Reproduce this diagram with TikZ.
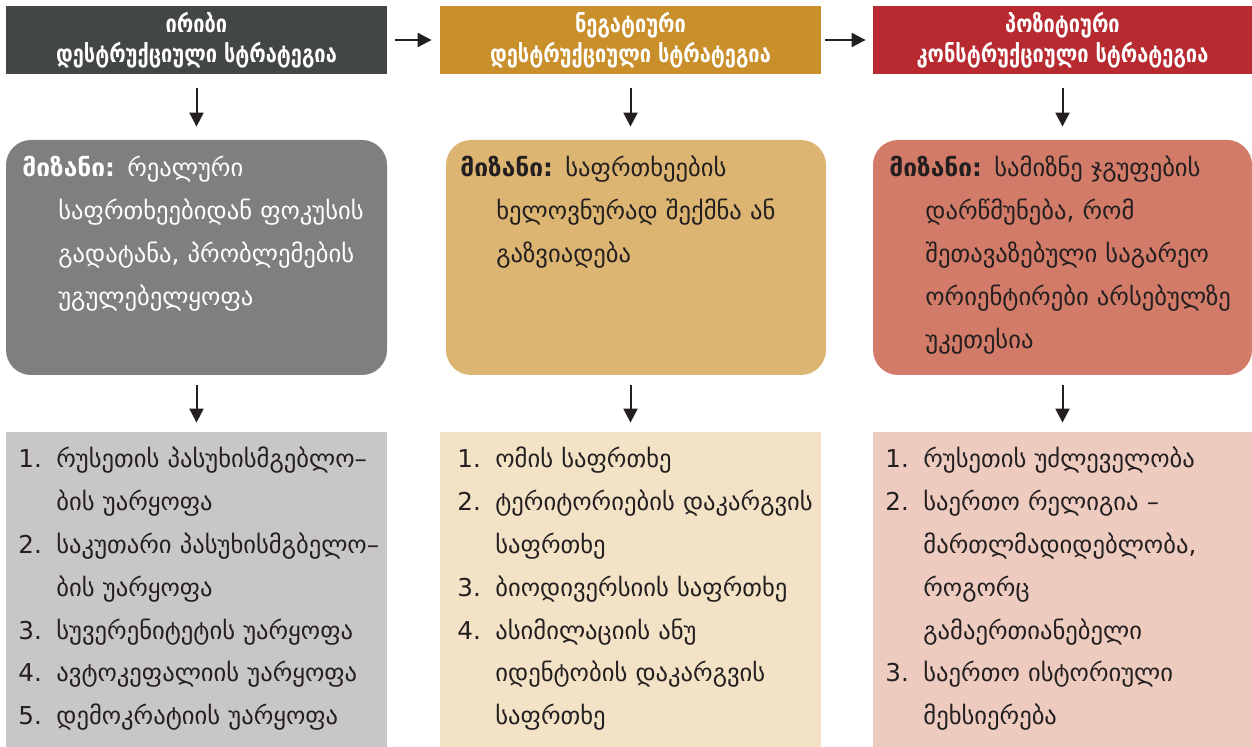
\documentclass[tikz,border=0pt]{standalone}
\usepackage{fontspec}
\setmainfont{DejaVu Sans}
\newfontfamily\hdrfont{DejaVu Sans}[FakeStretch=0.82]
\usetikzlibrary{arrows.meta}
\definecolor{hA}{HTML}{434646}
\definecolor{hB}{HTML}{C98F2A}
\definecolor{hC}{HTML}{B72A30}
\definecolor{gA}{HTML}{7F7F7F}
\definecolor{gB}{HTML}{DDB572}
\definecolor{gC}{HTML}{D27B68}
\definecolor{lA}{HTML}{C8C6C7}
\definecolor{lB}{HTML}{F3E2C6}
\definecolor{lC}{HTML}{EECBBF}
\definecolor{ink}{HTML}{231F20}
% goal text: hanging lines
\newcommand\gind{\newline\hspace*{18pt}}
% list: number box, continuation indent
\newcommand\lnum[1]{\makebox[19pt][l]{#1}}
\newcommand\lind{\newline\hspace*{19pt}}
\tikzset{
  hdr/.style={minimum width=190.5pt, minimum height=34pt, inner sep=0pt, text=white,
    font=\hdrfont\bfseries\fontsize{12.2}{15}\selectfont, align=center},
  goal/.style={rounded corners=12.5pt, minimum width=190pt, minimum height=117.5pt, inner sep=0pt},
  lst/.style={minimum width=190.5pt, minimum height=157.5pt, inner sep=0pt},
  txt/.style={anchor=base west, inner sep=0pt, text width=185pt,
    font=\fontsize{12.3}{21.4}\selectfont},
  arr/.style={draw=ink, line width=1pt, -{Triangle[length=7pt,width=7pt]}},
}
\begin{document}
\begin{tikzpicture}[x=0.5pt,y=-0.5pt]
\useasboundingbox (0,0) rectangle (1252,747);
% headers
\node[hdr, fill=hA] (h1) at (196.5,40) {ირიბი\\დესტრუქციული სტრატეგია};
\node[hdr, fill=hB] (h2) at (630.5,40) {ნეგატიური\\დესტრუქციული სტრატეგია};
\node[hdr, fill=hC, minimum width=189.5pt] (h3) at (1062.5,40) {პოზიტიური\\კონსტრუქციული სტრატეგია};
% goals
\node[goal, fill=gA, minimum width=190.5pt] (g1) at (196.5,257.5) {};
\node[goal, fill=gB] (g2) at (636,257.5) {};
\node[goal, fill=gC, minimum width=189.5pt] (g3) at (1062.5,257.5) {};
% lists
\node[lst, fill=lA] (l1) at (196.5,589.5) {};
\node[lst, fill=lB] (l2) at (630.5,589.5) {};
\node[lst, fill=lC, minimum width=189.5pt] (l3) at (1062.5,589.5) {};
% goal texts
\node[txt, text=white] (t1) at (22,177) {{\bfseries მიზანი:} რეალური\gind საფრთხეებიდან ფოკუსის\gind გადატანა, პრობლემების\gind უგულებელყოფა};
\node[txt, text=ink] (t2) at (460,177) {{\bfseries მიზანი:} საფრთხეების\gind ხელოვნურად შექმნა ან\gind გაზვიადება};
\node[txt, text=ink] (t3) at (889,177) {{\bfseries მიზანი:} სამიზნე ჯგუფების\gind დარწმუნება, რომ\gind შეთავაზებული საგარეო\gind ორიენტირები არსებულზე\gind უკეთესია};
% list texts
\node[txt, text=ink] (m1) at (18,468) {%
\lnum{1.}რუსეთის პასუხისმგებლო–\lind ბის უარყოფა\newline
\lnum{2.}საკუთარი პასუხისმგბელო–\lind ბის უარყოფა\newline
\lnum{3.}სუვერენიტეტის უარყოფა\newline
\lnum{4.}ავტოკეფალიის უარყოფა\newline
\lnum{5.}დემოკრატიის უარყოფა};
\node[txt, text=ink] (m2) at (457,468) {%
\lnum{1.}ომის საფრთხე\newline
\lnum{2.}ტერიტორიების დაკარგვის\lind საფრთხე\newline
\lnum{3.}ბიოდივერსიის საფრთხე\newline
\lnum{4.}ასიმილაციის ანუ\lind იდენტობის დაკარგვის\lind საფრთხე};
\node[txt, text=ink] (m3) at (885,468) {%
\lnum{1.}რუსეთის უძლეველობა\newline
\lnum{2.}საერთო რელიგია –\lind მართლმადიდებლობა,\lind როგორც\lind გამაერთიანებელი\newline
\lnum{3.}საერთო ისტორიული\lind მეხსიერება};
% arrows
\draw[arr, shorten <=4pt, shorten >=4pt] (h1.east) -- (h2.west);
\draw[arr, shorten <=2pt, shorten >=3.5pt] (h2.east) -- (h3.west);
\draw[arr, shorten <=7pt, shorten >=6.5pt] (h1.south) -- (h1.south |- g1.north);
\draw[arr, shorten <=7pt, shorten >=6.5pt] (h2.south) -- (h2.south |- g2.north);
\draw[arr, shorten <=7pt, shorten >=6.5pt] (h3.south) -- (h3.south |- g3.north);
\draw[arr, shorten <=5pt, shorten >=4.5pt] (l1.north |- g1.south) -- (l1.north);
\draw[arr, shorten <=5pt, shorten >=4.5pt] (l2.north |- g2.south) -- (l2.north);
\draw[arr, shorten <=5pt, shorten >=4.5pt] (l3.north |- g3.south) -- (l3.north);
\end{tikzpicture}
\end{document}
